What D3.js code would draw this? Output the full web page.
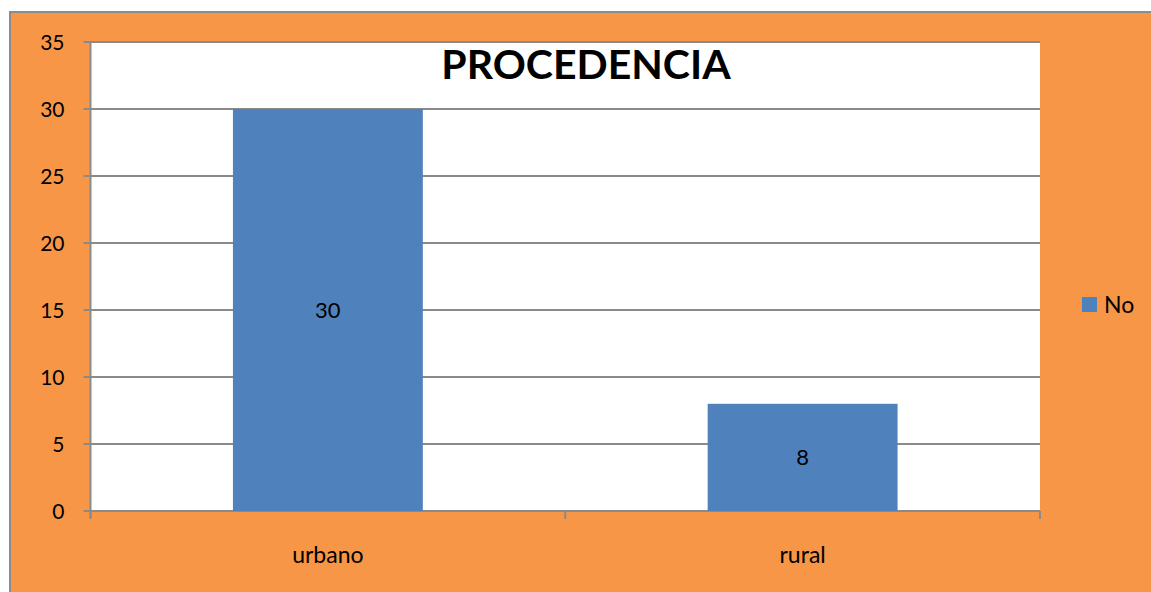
<!DOCTYPE html>
<html>
<head>
<meta charset="utf-8">
<script src="https://cdn.jsdelivr.net/npm/d3@7"></script>
<style>
  body { margin: 0; background: #fff; }
  svg { display: block; }
  text { font-family: Lato, "Open Sans", sans-serif; }
</style>
</head>
<body>
<script>
// chart data
const categories = ["urbano", "rural"];
const values = [30, 8];
const seriesName = "No";
const yTicks = [0, 5, 10, 15, 20, 25, 30, 35];
const title = "PROCEDENCIA";

const W = 1151, H = 592;
const plot = { left: 90.5, right: 1040, top: 42, bottom: 511 };

const svg = d3.select("body").append("svg")
    .attr("width", W)
    .attr("height", H);

// orange chart frame
svg.append("rect")
    .attr("x", 10).attr("y", 12)
    .attr("width", W + 10).attr("height", H + 10)
    .attr("fill", "#F79646")
    .attr("stroke", "#8c8c8c")
    .attr("stroke-width", 2);

svg.append("rect")
    .attr("x", plot.left).attr("y", plot.top)
    .attr("width", plot.right - plot.left)
    .attr("height", plot.bottom - plot.top)
    .attr("fill", "#fff");

var x = d3.scaleBand()
    .domain(categories)
    .range([plot.left, plot.right])
    .paddingInner(0.6)
    .paddingOuter(0.3);

// band step for the category ticks
var step = (plot.right - plot.left) / categories.length;

var y = d3.scaleLinear()
    .domain([0, 35])
    .range([plot.bottom, plot.top]);

// gridlines
svg.append("g")
    .selectAll("line")
    .data(yTicks)
    .enter().append("line")
    .attr("x1", plot.left - 7)
    .attr("x2", plot.right)
    .attr("y1", d => y(d))
    .attr("y2", d => y(d))
    .attr("stroke", "#8a8a8a")
    .attr("stroke-width", 2);

// y labels
svg.append("g")
    .selectAll("text")
    .data(yTicks)
    .enter().append("text")
    .attr("x", plot.left - 26)
    .attr("y", d => y(d))
    .attr("dy", "0.36em")
    .attr("text-anchor", "end")
    .attr("font-size", 21)
    .attr("fill", "#000")
    .text(d => d);

// bars
svg.append("g")
    .selectAll("rect")
    .data(values)
    .enter().append("rect")
    .attr("x", (d, i) => x(categories[i]))
    .attr("y", d => y(d))
    .attr("width", x.bandwidth())
    .attr("height", d => y(0) - y(d))
    .attr("fill", "#4F81BD");

// value labels
svg.append("g")
    .selectAll("text")
    .data(values)
    .enter().append("text")
    .attr("x", (d, i) => x(categories[i]) + x.bandwidth() / 2)
    .attr("y", d => (y(d) + y(0)) / 2)
    .attr("dy", "0.36em")
    .attr("text-anchor", "middle")
    .attr("font-size", 22)
    .text(d => d);

// y axis line
svg.append("line")
    .attr("x1", plot.left).attr("x2", plot.left)
    .attr("y1", plot.top).attr("y2", plot.bottom + 7)
    .attr("stroke", "#8a8a8a")
    .attr("stroke-width", 2);

// x axis ticks between categories
var xt = d3.range(categories.length + 1).map(i => plot.left + i * step);
svg.append("g")
    .selectAll("line")
    .data(xt)
    .enter().append("line")
    .attr("x1", d => d).attr("x2", d => d)
    .attr("y1", plot.bottom).attr("y2", plot.bottom + 8)
    .attr("stroke", "#8a8a8a")
    .attr("stroke-width", 2);

// category labels
svg.append("g")
    .selectAll("text")
    .data(categories)
    .enter().append("text")
    .attr("x", d => x(d) + x.bandwidth() / 2)
    .attr("y", 555)
    .attr("dy", "0.36em")
    .attr("text-anchor", "middle")
    .attr("font-size", 23)
    .text(d => d);

// title
svg.append("text")
    .attr("x", 586)
    .attr("y", 79)
    .attr("text-anchor", "middle")
    .attr("font-size", 41)
    .attr("font-weight", "bold")
    .text(title);

// legend
svg.append("rect")
    .attr("x", 1082).attr("y", 297)
    .attr("width", 15).attr("height", 15)
    .attr("fill", "#4F81BD");
svg.append("text")
    .attr("x", 1104)
    .attr("y", 305)
    .attr("dy", "0.36em")
    .attr("font-size", 23)
    .text(seriesName);
</script>
</body>
</html>
